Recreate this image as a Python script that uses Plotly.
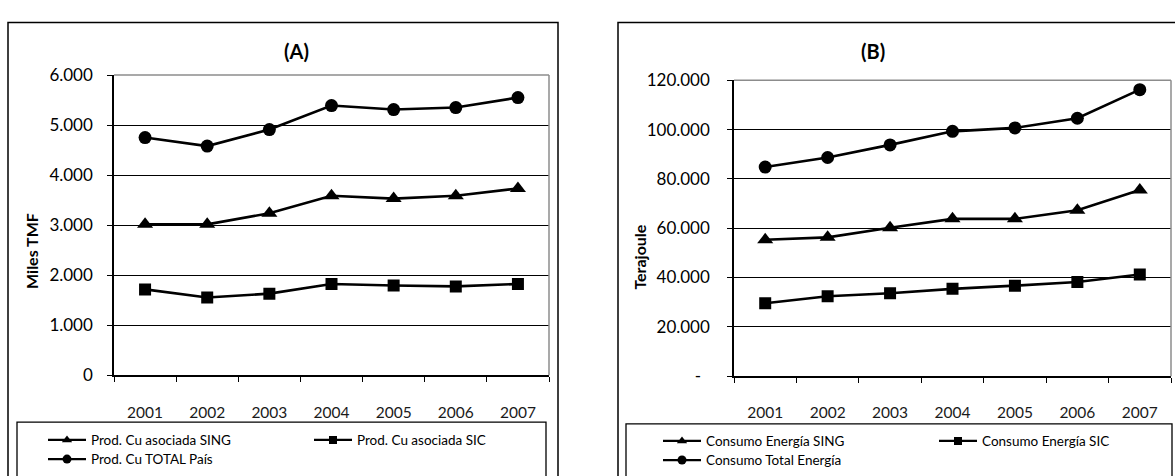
import plotly.graph_objects as go

# ---- data -------------------------------------------------------------
years = [2001, 2002, 2003, 2004, 2005, 2006, 2007]
year_labels = ["2001", "2002", "2003", "2004", "2005", "2006", "2007"]

# (A) copper production, thousand TMF
cu_sing = [3015, 3015, 3237, 3588, 3530, 3588, 3733]
cu_sic = [1715, 1552, 1630, 1824, 1794, 1775, 1824]
cu_total = [4750, 4580, 4910, 5390, 5310, 5350, 5550]

# (B) energy consumption, terajoule
en_sing = [55300, 56300, 60200, 63800, 63800, 67300, 75500]
en_sic = [29600, 32400, 33600, 35400, 36700, 38200, 41200]
en_total = [84800, 88700, 93800, 99300, 100700, 104600, 116200]

ticks_a = [0, 1000, 2000, 3000, 4000, 5000, 6000]
ticktext_a = ["0", "1.000", "2.000", "3.000", "4.000", "5.000", "6.000"]
ticks_b = [0, 20000, 40000, 60000, 80000, 100000, 120000]
ticktext_b = ["-\u00a0\u00a0", "20.000", "40.000", "60.000", "80.000", "100.000", "120.000"]

names_a = ["Prod. Cu asociada SING", "Prod. Cu asociada SIC", "Prod. Cu TOTAL País"]
names_b = ["Consumo Energía SING", "Consumo Energía SIC", "Consumo Total Energía"]

# ---- page geometry (pixels) ------------------------------------------
W, H = 1175, 476
FONT = "Lato"


def px(x):
    return x / W


def py(y):
    return 1 - y / H


fig = go.Figure()

symbols = ["triangle-up", "square", "circle"]
sizes = [14, 12, 13]
legend_sizes = [9, 8, 9]

series_a = [cu_sing, cu_sic, cu_total]
series_b = [en_sing, en_sic, en_total]

legend_ids = ["legend", "legend2", "legend3", "legend4", "legend5", "legend6"]


def add_series(vals, name, k, xa, ya, lid):
    # the plotted series
    fig.add_trace(go.Scatter(
        x=years, y=vals, name=name, mode="lines+markers",
        line=dict(color="black", width=2.6),
        marker=dict(symbol=symbols[k], size=sizes[k], color="black"),
        xaxis=xa, yaxis=ya, showlegend=False,
    ))
    # its legend key, with the smaller key marker
    fig.add_trace(go.Scatter(
        x=[None], y=[None], name=name, mode="lines+markers",
        line=dict(color="black", width=2.2),
        marker=dict(symbol=symbols[k], size=legend_sizes[k], color="black"),
        xaxis=xa, yaxis=ya, legend=lid, showlegend=True,
    ))


for i, (vals, name) in enumerate(zip(series_a, names_a)):
    add_series(vals, name, i, "x", "y", legend_ids[i])
for i, (vals, name) in enumerate(zip(series_b, names_b)):
    add_series(vals, name, i, "x2", "y2", legend_ids[3 + i])

# year axis: labels at the years, tick marks on the boundaries between them
xaxis_common = dict(
    type="linear", range=[years[0] - 0.5, years[-1] + 0.5],
    tickmode="array", tickvals=years, ticktext=year_labels, ticks="",
    minor=dict(ticks="outside", ticklen=5, tickwidth=1.3, tickcolor="black",
               tick0=years[0] - 0.5, dtick=1, showgrid=False),
    showline=True, linecolor="black", linewidth=1.5, showgrid=False,
    zeroline=False,
    tickfont=dict(family=FONT, size=15.5, color="#1a1a1a"),
    ticklabelstandoff=22, fixedrange=True,
)
yaxis_common = dict(
    ticks="outside", ticklen=5, tickwidth=1.3, tickcolor="black",
    showline=True, linecolor="black", linewidth=1.5,
    showgrid=True, gridcolor="black", gridwidth=1.3, zeroline=False,
    tickfont=dict(family=FONT, size=17, color="black"),
    tickmode="array", fixedrange=True,
)

fig.update_layout(
    width=W, height=H,
    margin=dict(l=0, r=0, t=0, b=0),
    paper_bgcolor="white", plot_bgcolor="white",
    showlegend=True,
    xaxis=dict(domain=[px(114), px(549)], anchor="y", **xaxis_common),
    yaxis=dict(domain=[py(381), py(67)], anchor="x", range=[0, 6000],
               tickvals=ticks_a, ticktext=ticktext_a, ticklabelstandoff=11,
               **yaxis_common),
    xaxis2=dict(domain=[px(734), px(1171)], anchor="y2", **xaxis_common),
    yaxis2=dict(domain=[py(382), py(72.5)], anchor="x2", range=[0, 120000],
                tickvals=ticks_b, ticktext=ticktext_b, ticklabelstandoff=14,
                **yaxis_common),
)

# one legend box per entry, laid out in two rows under each panel
legend_pos = [
    (43, 449), (309, 449), (43, 469),
    (658, 450), (934, 450), (658, 470),
]
for lid, (lx, ly) in zip(legend_ids, legend_pos):
    fig.update_layout({lid: dict(
        x=px(lx), y=py(ly), xanchor="left", yanchor="middle",
        orientation="h", bgcolor="rgba(0,0,0,0)", borderwidth=0,
        itemwidth=38, font=dict(family=FONT, size=13.5, color="black"),
        itemclick=False, itemdoubleclick=False,
    )})

shapes = []
# chart-area frames
shapes.append(dict(type="rect", xref="paper", yref="paper",
                   x0=px(8), x1=px(558), y0=py(500), y1=py(12),
                   line=dict(color="black", width=1.5)))
shapes.append(dict(type="rect", xref="paper", yref="paper",
                   x0=px(618), x1=px(1200), y0=py(500), y1=py(12),
                   line=dict(color="black", width=1.5)))
# legend frames
shapes.append(dict(type="rect", xref="paper", yref="paper",
                   x0=px(17), x1=px(546), y0=py(500), y1=py(430),
                   line=dict(color="black", width=1.3)))
shapes.append(dict(type="rect", xref="paper", yref="paper",
                   x0=px(626), x1=px(1172), y0=py(500), y1=py(432),
                   line=dict(color="black", width=1.3)))
# grey plot-area border on top and right
for xa, ya in (("x", "y"), ("x2", "y2")):
    shapes.append(dict(type="line", xref=f"{xa} domain", yref=f"{ya} domain",
                       x0=0, x1=1, y0=1, y1=1, layer="above",
                       line=dict(color="#8c8c8c", width=1.5)))
    shapes.append(dict(type="line", xref=f"{xa} domain", yref=f"{ya} domain",
                       x0=1, x1=1, y0=0, y1=1, layer="above",
                       line=dict(color="#8c8c8c", width=1.5)))
fig.update_layout(shapes=shapes)

annotations = [
    dict(text="<b>(A)</b>", x=px(296), y=py(42), size=20),
    dict(text="<b>(B)</b>", x=px(873), y=py(42), size=20),
    dict(text="<b>Miles TMF</b>", x=px(32), y=py(251), textangle=-90, size=16),
    dict(text="<b>Terajoule</b>", x=px(640), y=py(258), textangle=-90, size=16),
]
for a in annotations:
    fsize = a.pop("size")
    a.update(xref="paper", yref="paper", showarrow=False,
             xanchor="center", yanchor="middle",
             font=dict(family=FONT, size=fsize, color="black"))
fig.update_layout(annotations=annotations)

fig.write_html("out.html")
